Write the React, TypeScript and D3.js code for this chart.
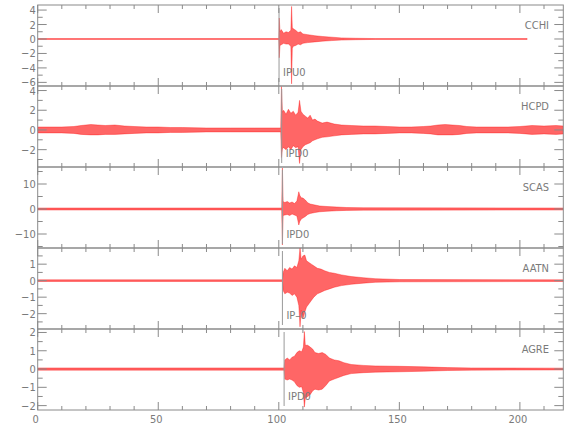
import React from 'react';
import * as d3 from 'd3';

// ---- data ----
const stations = ['CCHI', 'HCPD', 'SCAS', 'AATN', 'AGRE'];
const pickLabels = ['IPU0', 'IPD0', 'IPD0', 'IP\u20130', 'IPD0'];
const pickTimes = [100.1, 101.2, 101.5, 101.5, 102.2];
const yDomains: [number, number][] = [[-6.5, 4.7], [-3.76, 4.46], [-15.6, 16.8], [-2.93, 1.98], [-2.24, 2.19]];
const yMajor = [[4, 2, 0, -2, -4, -6], [4, 2, 0, -2], [10, 0, -10], [1, 0, -1, -2], [2, 1, 0, -1, -2]];
const yMinor = [[3, 1, -1, -3, -5], [3, 1, -1, -3], [15, 5, -5, -15], [1.5, 0.5, -0.5, -1.5, -2.5], [1.5, 0.5, -0.5, -1.5]];
const xMajor = [0, 50, 100, 150, 200];
const xMinor = [10, 20, 30, 40, 60, 70, 80, 90, 110, 120, 130, 140, 160, 170, 180, 190, 210];

// envelope keyframes (time s, upper, lower)
const cchiT = [0, 100.0, 100.2, 100.5, 101, 102, 103, 104, 105.0, 105.3, 105.6, 106, 107, 108, 109, 110, 112, 115, 118, 122, 126, 132, 140, 203];
const cchiHi = [0.06, 0.06, 2.9, 1.0, 1.3, 0.8, 1.0, 0.9, 1.2, 4.5, 1.6, 1.4, 1.2, 0.9, 1.0, 0.7, 0.6, 0.45, 0.35, 0.25, 0.15, 0.1, 0.06, 0.06];
const cchiLo = [-0.06, -0.06, -2.6, -0.9, -0.8, -0.6, -0.7, -0.7, -1.0, -6.2, -1.3, -1.0, -0.9, -0.7, -0.8, -0.6, -0.5, -0.4, -0.3, -0.22, -0.15, -0.1, -0.06, -0.06];

const hcpdT = [0, 5, 10, 15, 18, 22, 25, 28, 32, 36, 40, 45, 50, 55, 60, 70, 80, 90, 100.8, 101.1, 101.5, 102, 103, 104, 105, 106, 107, 108, 108.6, 109.2, 110, 111, 112, 113, 114, 115, 116, 118, 120, 123, 126, 130, 135, 140, 145, 150, 155, 160, 163, 166, 169, 172, 175, 178, 182, 188, 195, 200, 205, 210, 215, 218];
const hcpdHi = [0.3, 0.3, 0.3, 0.35, 0.45, 0.55, 0.5, 0.45, 0.5, 0.4, 0.35, 0.3, 0.3, 0.25, 0.25, 0.2, 0.2, 0.2, 0.2, 4.4, 1.8, 2.0, 1.6, 2.1, 1.7, 1.9, 1.5, 1.8, 3.0, 1.9, 1.6, 1.4, 1.2, 1.5, 1.0, 1.1, 0.9, 0.7, 0.8, 0.6, 0.5, 0.45, 0.4, 0.4, 0.35, 0.3, 0.3, 0.35, 0.4, 0.5, 0.55, 0.5, 0.45, 0.35, 0.3, 0.3, 0.3, 0.35, 0.45, 0.4, 0.45, 0.4];
const hcpdLo = [-0.3, -0.3, -0.3, -0.35, -0.45, -0.5, -0.5, -0.45, -0.45, -0.4, -0.35, -0.3, -0.3, -0.25, -0.25, -0.2, -0.2, -0.2, -0.2, -2.8, -1.9, -1.8, -2.0, -1.7, -2.0, -1.6, -1.8, -1.7, -3.4, -2.0, -1.7, -1.5, -1.4, -1.3, -1.1, -1.0, -0.9, -0.75, -0.7, -0.6, -0.5, -0.45, -0.4, -0.4, -0.35, -0.3, -0.3, -0.35, -0.4, -0.5, -0.5, -0.5, -0.45, -0.35, -0.3, -0.3, -0.3, -0.35, -0.45, -0.4, -0.45, -0.4];

const scasT = [0, 101.2, 101.5, 101.8, 102.5, 103.5, 104.5, 105.5, 106.5, 107.5, 108.3, 108.7, 109.3, 110, 111, 112, 113, 115, 117, 120, 124, 128, 135, 218];
const scasHi = [0.4, 0.4, 16.4, 3.0, 2.6, 3.0, 2.4, 2.8, 2.2, 3.2, 6.9, 5.5, 4.5, 4.4, 3.6, 2.5, 2.0, 1.6, 1.2, 1.0, 0.8, 0.6, 0.5, 0.4];
const scasLo = [-0.4, -0.4, -14.4, -2.6, -2.4, -2.2, -2.6, -2.0, -2.4, -2.8, -6.4, -5.0, -4.0, -3.6, -3.0, -2.2, -1.8, -1.4, -1.1, -0.9, -0.7, -0.55, -0.45, -0.4];

const aatnT = [0, 101.5, 101.8, 102.5, 103.5, 104.5, 105.5, 106.5, 107.5, 108.3, 108.8, 109.3, 110, 110.8, 111.5, 112.5, 113.5, 114.5, 116, 117.5, 119, 121, 123, 126, 130, 135, 140, 150, 218];
const aatnHi = [0.05, 0.05, 0.5, 0.75, 0.6, 0.8, 0.7, 0.9, 0.8, 1.2, 2.0, 1.3, 1.5, 1.55, 1.2, 1.1, 1.0, 0.9, 0.75, 0.7, 0.6, 0.5, 0.45, 0.35, 0.25, 0.18, 0.12, 0.07, 0.05];
const aatnLo = [-0.05, -0.05, -0.6, -0.8, -0.7, -0.75, -0.9, -0.8, -1.0, -1.5, -2.8, -1.8, -2.3, -1.9, -1.6, -1.4, -1.2, -1.0, -0.8, -0.7, -0.6, -0.5, -0.4, -0.3, -0.22, -0.15, -0.1, -0.07, -0.05];

const agreT = [0, 102.2, 102.5, 103.5, 104.5, 105.5, 106.5, 107.5, 108.5, 109.5, 110.2, 110.6, 111, 112, 113, 114, 115, 116.5, 118, 119.5, 121, 123, 125, 127, 130, 135, 140, 150, 160, 170, 180, 218];
const agreHi = [0.06, 0.06, 0.5, 0.6, 0.5, 0.65, 0.7, 0.9, 1.0, 0.95, 1.2, 2.05, 1.3, 1.3, 1.2, 1.1, 0.9, 0.85, 0.9, 0.8, 0.6, 0.5, 0.45, 0.35, 0.25, 0.2, 0.17, 0.15, 0.12, 0.08, 0.06, 0.05];
const agreLo = [-0.06, -0.06, -0.55, -0.6, -0.55, -0.6, -0.7, -0.9, -1.0, -0.97, -1.3, -2.08, -1.6, -1.5, -1.4, -1.2, -1.1, -1.15, -1.1, -0.9, -0.65, -0.55, -0.45, -0.35, -0.25, -0.2, -0.17, -0.15, -0.12, -0.08, -0.06, -0.05];

const series = [
  { t: cchiT, hi: cchiHi, lo: cchiLo },
  { t: hcpdT, hi: hcpdHi, lo: hcpdLo },
  { t: scasT, hi: scasHi, lo: scasLo },
  { t: aatnT, hi: aatnHi, lo: aatnLo },
  { t: agreT, hi: agreHi, lo: agreLo },
];

// ---- layout ----
const W = 580, H = 440;
const left = 37.7, right = 563.3, top0 = 5, panelH = 81;
const axisColor = '#8a8a8a';
const textColor = '#7a7a7a';
const font = "'Liberation Sans Narrow','DejaVu Sans Condensed','Liberation Sans',sans-serif";
const fmt = (v: number) => (v < 0 ? '\u2212' + Math.abs(v) : String(v));

export default function App() {
  const x = d3.scaleLinear().domain([0, 218]).range([left, right]);
  return (
    <svg width={W} height={H} style={{ position: 'absolute', left: 0, top: 0, background: '#fff' }}>
      <defs>
        {stations.map((s, i) => (
          <clipPath id={'clip' + i} key={s}>
            <rect x={left} y={top0 + i * panelH} width={right - left} height={panelH} />
          </clipPath>
        ))}
      </defs>
      {stations.map((s, i) => {
        const pt = top0 + i * panelH;
        const pb = pt + panelH;
        const y = d3.scaleLinear().domain(yDomains[i]).range([pb, pt]);
        const d = series[i];
        const pts = d.t.map((t, k) => ({ t, hi: d.hi[k], lo: d.lo[k] }));
        const area = d3.area<any>().x((p) => x(p.t)).y0((p) => y(p.lo)).y1((p) => y(p.hi))(pts) || '';
        const px = x(pickTimes[i]);
        return (
          <g key={s}>
            <g clipPath={`url(#clip${i})`}>
              <path d={area} fill="#ff0000" fillOpacity={0.6} stroke="#ff0000" strokeWidth={0.5} strokeOpacity={0.7} />
            </g>
            <line x1={px} x2={px} y1={pt + 3} y2={pb - 4} stroke="#999" strokeWidth={1} />
            <text x={px + 4} y={pt + 71} fontFamily={font} fontSize={11} fill={textColor}>{pickLabels[i]}</text>
            <text x={549} y={pt + 24} fontFamily={font} fontSize={11} fill={textColor} textAnchor="end">{s}</text>
            <rect x={left} y={pt} width={right - left} height={panelH} fill="none" stroke={axisColor} strokeWidth={1} />
            {yMajor[i].map((v) => (
              <g key={'M' + v}>
                <line x1={left} x2={left + 9} y1={y(v)} y2={y(v)} stroke={axisColor} />
                <line x1={right} x2={right - 9} y1={y(v)} y2={y(v)} stroke={axisColor} />
                <text x={left - 2} y={y(v) + 4} fontFamily={font} fontSize={11} fill={textColor} textAnchor="end">{fmt(v)}</text>
              </g>
            ))}
            {yMinor[i].map((v) => (
              <g key={'m' + v}>
                <line x1={left} x2={left + 5} y1={y(v)} y2={y(v)} stroke={axisColor} />
                <line x1={right} x2={right - 5} y1={y(v)} y2={y(v)} stroke={axisColor} />
              </g>
            ))}
            {xMajor.map((v) => (
              <g key={'xM' + v}>
                <line x1={x(v)} x2={x(v)} y1={pt} y2={pt + 8} stroke={axisColor} />
                <line x1={x(v)} x2={x(v)} y1={pb} y2={pb - 8} stroke={axisColor} />
              </g>
            ))}
            {xMinor.map((v) => (
              <g key={'xm' + v}>
                <line x1={x(v)} x2={x(v)} y1={pt} y2={pt + 4} stroke={axisColor} />
                <line x1={x(v)} x2={x(v)} y1={pb} y2={pb - 4} stroke={axisColor} />
              </g>
            ))}
          </g>
        );
      })}
      {xMajor.map((v) => (
        <text key={'xl' + v} x={x(v) - 2} y={top0 + 5 * panelH + 13} fontFamily={font} fontSize={11} fill={textColor} textAnchor="middle">{v}</text>
      ))}
    </svg>
  );
}
